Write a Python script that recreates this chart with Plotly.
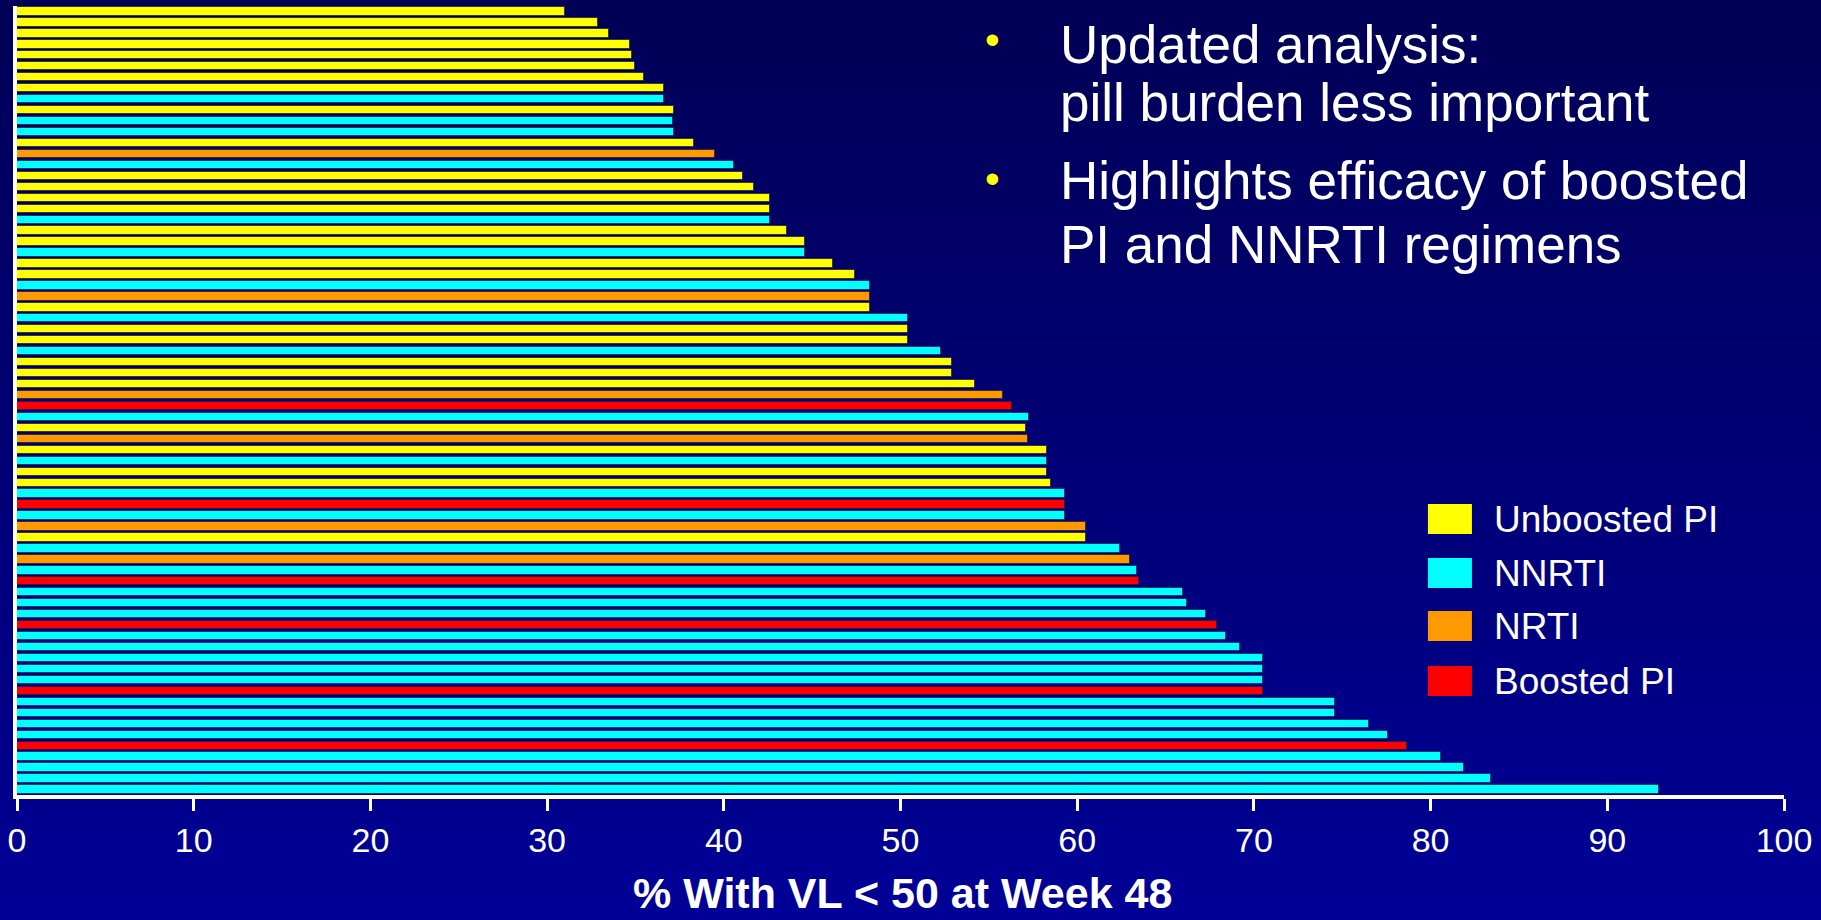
import plotly.graph_objects as go

# Regimen arms, sorted top-to-bottom as drawn
classes = [
    "Unboosted PI", "Unboosted PI", "Unboosted PI", "Unboosted PI", "Unboosted PI", "Unboosted PI",
    "Unboosted PI", "Unboosted PI", "NNRTI", "Unboosted PI", "NNRTI", "NNRTI",
    "Unboosted PI", "NRTI", "NNRTI", "Unboosted PI", "Unboosted PI", "Unboosted PI",
    "Unboosted PI", "NNRTI", "Unboosted PI", "Unboosted PI", "NNRTI", "Unboosted PI",
    "Unboosted PI", "NNRTI", "NRTI", "Unboosted PI", "NNRTI", "Unboosted PI",
    "Unboosted PI", "NNRTI", "Unboosted PI", "Unboosted PI", "Unboosted PI", "NRTI",
    "Boosted PI", "NNRTI", "Unboosted PI", "NRTI", "Unboosted PI", "NNRTI",
    "Unboosted PI", "Unboosted PI", "NNRTI", "Boosted PI", "NNRTI", "NRTI",
    "Unboosted PI", "NNRTI", "NRTI", "NNRTI", "Boosted PI", "NNRTI",
    "NNRTI", "NNRTI", "Boosted PI", "NNRTI", "NNRTI", "NNRTI",
    "NNRTI", "NNRTI", "Boosted PI", "NNRTI", "NNRTI", "NNRTI",
    "NNRTI", "Boosted PI", "NNRTI", "NNRTI", "NNRTI", "NNRTI",
]
pct_vl50 = [
    31.0, 32.9, 33.5, 34.7, 34.8, 35.0,
    35.5, 36.6, 36.6, 37.2, 37.1, 37.2,
    38.3, 39.5, 40.6, 41.1, 41.7, 42.6,
    42.6, 42.6, 43.6, 44.6, 44.6, 46.2,
    47.4, 48.3, 48.3, 48.3, 50.4, 50.4,
    50.4, 52.3, 52.9, 52.9, 54.2, 55.8,
    56.3, 57.3, 57.1, 57.2, 58.3, 58.3,
    58.3, 58.5, 59.3, 59.3, 59.3, 60.5,
    60.5, 62.4, 63.0, 63.4, 63.5, 66.0,
    66.2, 67.3, 67.9, 68.4, 69.2, 70.5,
    70.5, 70.5, 70.5, 74.6, 74.6, 76.5,
    77.6, 78.65, 80.6, 81.9, 83.4, 92.9,
]
x_ticks = [0, 10, 20, 30, 40, 50, 60, 70, 80, 90, 100]
legend_order = ["Unboosted PI", "NNRTI", "NRTI", "Boosted PI"]
class_colors = {
    "Unboosted PI": "#FFFF00",
    "NNRTI": "#00FFFF",
    "NRTI": "#FF9900",
    "Boosted PI": "#FF0000",
}
bullet_lines = [
    ["Updated analysis:", "pill burden less important"],
    ["Highlights efficacy of boosted", "PI and NNRTI regimens"],
]

W, H = 1821, 920
M_L, M_R, M_T, M_B = 17.4, 37, 6, 125
PW, PH = W - M_L - M_R, H - M_T - M_B


def px(x):
    return (x - M_L) / PW


def py(y):
    return 1 - (y - M_T) / PH


FONT = "Liberation Sans, Arial, sans-serif"

fig = go.Figure()
rows = list(range(len(pct_vl50)))
for cls in legend_order:
    ys = [r for r in rows if classes[r] == cls]
    xs = [pct_vl50[r] for r in ys]
    fig.add_trace(go.Bar(
        x=xs, y=ys, orientation="h", width=0.76, name=cls,
        marker=dict(color=class_colors[cls], line=dict(color="rgba(30,30,70,0.75)", width=1)),
        showlegend=False, hoverinfo="x+name",
    ))

shapes = []
# vertical background gradient
n_steps = 60
top_rgb, bot_rgb = (0, 0, 86), (0, 0, 150)
for i in range(n_steps):
    t = i / (n_steps - 1)
    c = tuple(round(top_rgb[k] + (bot_rgb[k] - top_rgb[k]) * t) for k in range(3))
    y0 = i * H / n_steps
    y1 = (i + 1) * H / n_steps + 1
    shapes.append(dict(type="rect", xref="paper", yref="paper", layer="below",
                       x0=px(-5), x1=px(W + 5), y0=py(y1), y1=py(y0),
                       line=dict(width=0), fillcolor=f"rgb{c}"))

annotations = []
# bullet text block
line_y = [[44, 102], [180, 244]]
bullet_y = [40, 178]
for g, lines in enumerate(bullet_lines):
    annotations.append(dict(xref="paper", yref="paper", x=px(993), y=py(bullet_y[g]),
                            text="\u2022", showarrow=False, xanchor="center", yanchor="middle",
                            font=dict(family=FONT, size=42, color="#FFFF00")))
    for j, txt in enumerate(lines):
        annotations.append(dict(xref="paper", yref="paper", x=px(1058), y=py(line_y[g][j]),
                                text=txt, showarrow=False, xanchor="left", yanchor="middle",
                                font=dict(family=FONT, size=53, color="white")))

# legend block
leg_y = [519, 573, 626, 681]
for i, cls in enumerate(legend_order):
    shapes.append(dict(type="rect", xref="paper", yref="paper",
                       x0=px(1428), x1=px(1472), y0=py(leg_y[i] + 15), y1=py(leg_y[i] - 15),
                       line=dict(width=0), fillcolor=class_colors[cls]))
    annotations.append(dict(xref="paper", yref="paper", x=px(1492), y=py(leg_y[i]),
                            text=cls, showarrow=False, xanchor="left", yanchor="middle",
                            font=dict(family=FONT, size=37, color="white")))

# x-axis title
annotations.append(dict(xref="paper", yref="paper", x=px(903), y=py(893),
                        text="<b>% With VL < 50 at Week 48</b>", showarrow=False,
                        xanchor="center", yanchor="middle",
                        font=dict(family=FONT, size=43, color="white")))

fig.update_layout(
    width=W, height=H,
    margin=dict(l=M_L, r=M_R, t=M_T, b=M_B, pad=0),
    paper_bgcolor="#000070", plot_bgcolor="rgba(0,0,0,0)",
    barmode="overlay", bargap=0,
    shapes=shapes, annotations=annotations,
    xaxis=dict(range=[0, 100], tickvals=x_ticks, ticktext=[str(v) for v in x_ticks],
               showgrid=False, zeroline=False, showline=True, linecolor="white", linewidth=4,
               ticks="outside", ticklen=12, tickwidth=3, tickcolor="white",
               tickfont=dict(family=FONT, size=34, color="white"), ticklabelstandoff=0,
               fixedrange=True),
    yaxis=dict(range=[len(pct_vl50) - 0.5, -0.5], showticklabels=False, showgrid=False,
               zeroline=False, showline=True, linecolor="white", linewidth=4, ticks="",
               fixedrange=True),
    font=dict(family=FONT, color="white"),
)

fig.write_html("out.html")
